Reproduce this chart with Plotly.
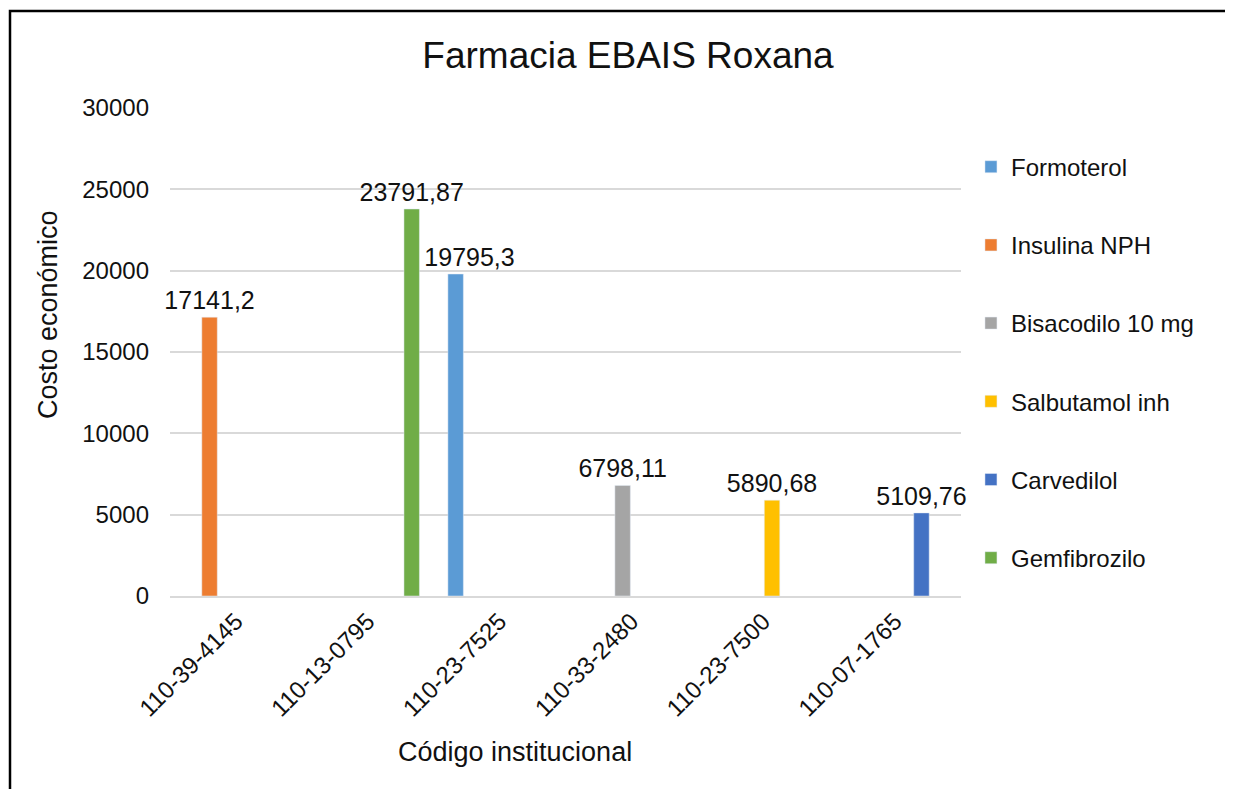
import plotly.graph_objects as go

codigos = ["110-39-4145", "110-13-0795", "110-23-7525", "110-33-2480", "110-23-7500", "110-07-1765"]
medicamentos = ["Formoterol", "Insulina NPH", "Bisacodilo 10 mg", "Salbutamol inh", "Carvedilol", "Gemfibrozilo"]
# each medicine only has a value at its own code
codigo_de_medicamento = ["110-23-7525", "110-39-4145", "110-33-2480", "110-23-7500", "110-07-1765", "110-13-0795"]
costos = [19795.3, 17141.2, 6798.11, 5890.68, 5109.76, 23791.87]
etiquetas = ["19795,3", "17141,2", "6798,11", "5890,68", "5109,76", "23791,87"]
colores = ["#5B9BD5", "#ED7D31", "#A5A5A5", "#FFC000", "#4472C4", "#70AD47"]

# the Formoterol label is nudged right in the original so it clears the green bar
empuje = {"Formoterol": 4}

fig = go.Figure()
for i, med in enumerate(medicamentos):
    ys = [costos[i] if c == codigo_de_medicamento[i] else None for c in codigos]
    lab = "\u00a0" * empuje.get(med, 0) + etiquetas[i]
    txt = [lab if c == codigo_de_medicamento[i] else "" for c in codigos]
    fig.add_trace(go.Bar(
        x=codigos, y=ys, name=med, legendgroup=med,
        marker_color=colores[i], text=txt, textposition="outside",
        constraintext="none", textfont=dict(size=25, color="#111"),
        cliponaxis=False,
    ))

# page body adds 8px offset, so the figure is 8px smaller than the window
W, H = 1225, 781
L, T, PW, PH = 162, 100, 791, 488
fig.update_layout(
    width=W, height=H,
    margin=dict(l=L, r=W - L - PW, t=T, b=H - T - PH, autoexpand=False),
    paper_bgcolor="white", plot_bgcolor="white",
    font=dict(family="Liberation Sans, Arial, sans-serif", color="#111"),
    title=dict(text="Farmacia EBAIS Roxana", x=620 / W, xanchor="center",
               y=1 - 47 / H, yanchor="middle", font=dict(size=37)),
    barmode="group", bargap=0.2, bargroupgap=0.12,
    showlegend=True,
    legend=dict(x=1.0126, y=0.925, xanchor="left", yanchor="top",
                font=dict(size=24), tracegroupgap=44, itemwidth=30),
)
fig.update_xaxes(
    tickangle=-45, tickfont=dict(size=24), showgrid=False,
    showline=True, linecolor="#D9D9D9", linewidth=1.5,
)
fig.update_yaxes(
    range=[0, 30000], dtick=5000, tickformat="d", tickfont=dict(size=24),
    gridcolor="#D9D9D9", gridwidth=1.5, zeroline=False, ticklabelstandoff=20,
)

# axis titles (placed off-centre as in the original)
fig.add_annotation(text="Código institucional", xref="paper", yref="paper",
                   x=0.436, y=-0.32, xanchor="center", yanchor="middle",
                   showarrow=False, font=dict(size=27))
fig.add_annotation(text="Costo económico", xref="paper", yref="paper",
                   x=-0.154, y=0.576, xanchor="center", yanchor="middle",
                   textangle=-90, showarrow=False, font=dict(size=27))

# outer chart frame
fig.add_shape(type="rect", xref="paper", yref="paper",
              x0=(2 - L) / PW, x1=(1250 - L) / PW,
              y0=(T + PH - 800) / PH, y1=(T + PH - 3) / PH,
              line=dict(color="black", width=2.5), fillcolor="rgba(0,0,0,0)")

fig.write_html("out.html")
